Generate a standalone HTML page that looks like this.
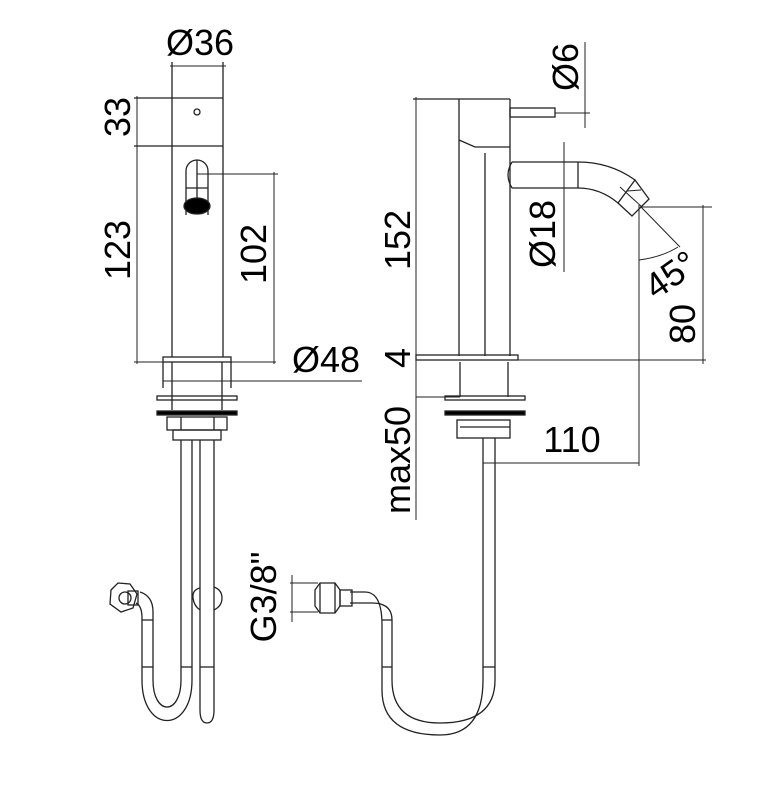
<!DOCTYPE html>
<html><head><meta charset="utf-8"><style>html,body{margin:0;padding:0;background:#fff}svg{display:block}</style></head>
<body>
<svg width="764" height="800" viewBox="0 0 764 800" xmlns="http://www.w3.org/2000/svg" font-family="Liberation Sans, Arial, sans-serif" font-size="36" fill="#000">
<g fill="none" stroke="#222" stroke-width="1.3">
<!-- LEFT VIEW -->
<line x1="172" y1="62" x2="172" y2="357"/>
<line x1="223" y1="62" x2="223" y2="357"/>
<line x1="170" y1="66" x2="226" y2="66" stroke-width="1"/>
<line x1="134" y1="98" x2="223" y2="98"/>
<line x1="134" y1="146" x2="223" y2="146"/>
<line x1="137" y1="96" x2="137" y2="364" stroke-width="1"/>
<circle cx="197" cy="112" r="3"/>
<path d="M186 215 V171 A11 11 0 0 1 208 171 V215"/>
<line x1="197" y1="160" x2="197" y2="200"/>
<line x1="186" y1="188" x2="208" y2="188"/>
<ellipse cx="197" cy="206" rx="13" ry="8" fill="#000"/>
<line x1="197" y1="174" x2="278" y2="174" stroke-width="1"/>
<line x1="274" y1="172" x2="274" y2="364" stroke-width="1"/>
<line x1="134" y1="362" x2="276" y2="362" stroke-width="1"/>
<rect x="163" y="357" width="68" height="5"/>
<line x1="163" y1="362" x2="163" y2="388"/><line x1="231" y1="362" x2="231" y2="388"/>
<line x1="172" y1="362" x2="172" y2="410"/><line x1="222" y1="362" x2="222" y2="410"/>
<line x1="163" y1="381" x2="362" y2="381" stroke-width="1"/>
<rect x="157" y="396" width="80" height="4"/>
<rect x="157" y="411" width="80" height="4" fill="#000"/>
<rect x="167" y="417" width="60" height="13"/>
<line x1="181" y1="417" x2="181" y2="430"/><line x1="214" y1="417" x2="214" y2="430"/>
<rect x="173" y="430" width="48" height="10"/>
<!-- left tubes -->
<path d="M181 440 V680 C181 716 153 716 153 680 V612 Q153 596 140 592"/>
<path d="M192 440 V680 C192 734 142 734 142 680 V618 Q142 606 136 603"/>
<line x1="142" y1="667" x2="153" y2="667"/><line x1="181" y1="667" x2="192" y2="667"/>
<line x1="142" y1="620" x2="153" y2="620"/>
<polygon points="111,590 118,583 130,584 137,594 133,608 121,612 110,604"/>
<circle cx="125" cy="598" r="6"/>
<rect x="128" y="591" width="10" height="14"/>
<path d="M200 440 V710 Q200 723 207 723 Q214 723 214 710 V440"/>
<line x1="200" y1="667" x2="214" y2="667"/>
<path d="M200 588 Q192 590 193 598 Q194 606 200 610 M214 587 Q222 590 222 598 Q222 606 214 610"/>
<!-- RIGHT VIEW -->
<line x1="413" y1="99" x2="510" y2="99"/>
<line x1="459" y1="99" x2="459" y2="356"/>
<line x1="510" y1="99" x2="510" y2="356"/>
<path d="M459 140 L475 147 L510 147"/>
<line x1="485" y1="153" x2="485" y2="356"/>
<rect x="510" y="108" width="45" height="9"/>
<line x1="555" y1="113" x2="590" y2="113" stroke-width="1"/>
<line x1="585" y1="42" x2="585" y2="128" stroke-width="1"/>
<line x1="416" y1="97" x2="416" y2="520" stroke-width="1"/>
<!-- spout -->
<path d="M512 162 H578 Q610 162 635 180"/>
<path d="M512 188 H578 Q600 188 618 203"/>
<path d="M512 162 Q504 175 512 188"/>
<line x1="578" y1="162" x2="578" y2="188"/>
<polygon points="618,203 635,180 649,199 632,216"/>
<line x1="620" y1="187" x2="642" y2="207" stroke-width="1"/>
<line x1="627" y1="191" x2="641" y2="190" stroke-width="1"/>
<line x1="564" y1="142" x2="564" y2="272" stroke-width="1"/>
<line x1="640" y1="207" x2="712" y2="207" stroke-width="1"/>
<line x1="703" y1="205" x2="703" y2="364" stroke-width="1"/>
<line x1="639" y1="205" x2="639" y2="466" stroke-width="1"/>
<line x1="641" y1="207" x2="680" y2="247" stroke-width="1"/>
<path d="M639 260 Q662 257 678 247" stroke-width="1"/>
<rect x="416" y="355" width="102" height="5"/>
<line x1="416" y1="360" x2="706" y2="360" stroke-width="1"/>
<line x1="460" y1="362" x2="460" y2="397"/><line x1="508" y1="362" x2="508" y2="397"/>
<line x1="416" y1="397" x2="460" y2="397" stroke-width="1"/>
<rect x="445" y="396" width="80" height="4"/>
<rect x="445" y="411" width="80" height="4" fill="#000"/>
<rect x="457" y="420" width="53" height="18"/>
<line x1="460" y1="427" x2="510" y2="427"/>
<line x1="483" y1="438" x2="483" y2="667"/><line x1="495" y1="438" x2="495" y2="667"/>
<line x1="483" y1="463" x2="639" y2="463" stroke-width="1"/>
<!-- right hose -->
<path d="M495 667 V680 Q495 723 440 723 Q392 723 392 680 V620 Q392 603 372 603 H350"/>
<path d="M483 667 V680 Q483 735 440 735 Q382 735 382 690 V625 Q382 592 365 592 H350"/>
<line x1="483" y1="667" x2="495" y2="667"/><line x1="382" y1="667" x2="392" y2="667"/>
<line x1="382" y1="620" x2="392" y2="620"/>
<rect x="340" y="590" width="12" height="16"/>
<polygon points="315,590 320,583 335,583 340,590 340,606 335,613 320,613 315,606"/>
<line x1="320" y1="583" x2="320" y2="613"/><line x1="335" y1="583" x2="335" y2="613"/>
<line x1="292" y1="575" x2="292" y2="622" stroke-width="1"/>
<line x1="290" y1="583" x2="318" y2="583" stroke-width="1"/>
<line x1="290" y1="612" x2="318" y2="612" stroke-width="1"/>
</g>
<!-- text -->
<text x="200" y="55" text-anchor="middle">Ø36</text>
<text x="326" y="372" text-anchor="middle">Ø48</text>
<text transform="translate(130,117) rotate(-90)" text-anchor="middle">33</text>
<text transform="translate(130,250) rotate(-90)" text-anchor="middle">123</text>
<text transform="translate(266,254) rotate(-90)" text-anchor="middle">102</text>
<text transform="translate(578,67) rotate(-90)" text-anchor="middle">Ø6</text>
<text transform="translate(410,240) rotate(-90)" text-anchor="middle">152</text>
<text transform="translate(555,234) rotate(-90)" text-anchor="middle">Ø18</text>
<text transform="translate(671,275) rotate(-35)" text-anchor="middle" y="12">45°</text>
<text transform="translate(695,324) rotate(-90)" text-anchor="middle">80</text>
<text transform="translate(410,358) rotate(-90)" text-anchor="middle">4</text>
<text transform="translate(410,460) rotate(-90)" text-anchor="middle">max50</text>
<text x="572" y="452" text-anchor="middle">110</text>
<text transform="translate(276,597) rotate(-90)" text-anchor="middle">G3/8"</text>
</svg>
</body></html>
